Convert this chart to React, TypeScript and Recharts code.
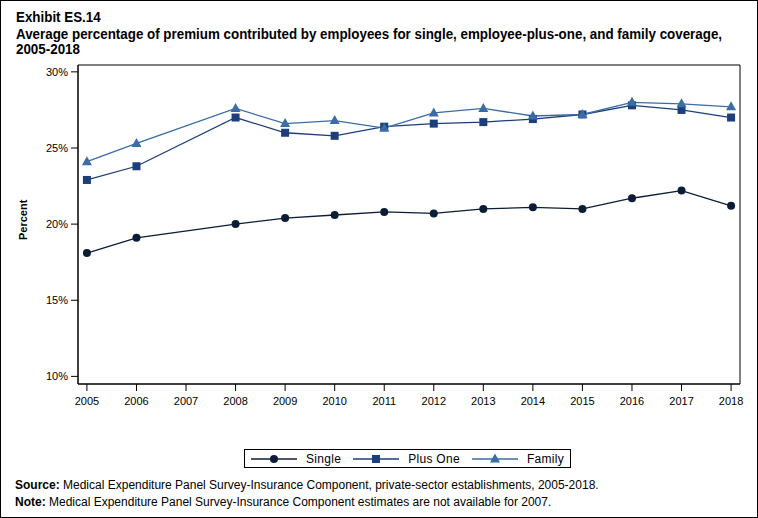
import React from "react";
import {
  LineChart,
  Line,
  XAxis,
  YAxis,
  ReferenceArea,
} from "recharts";

const years = [2005, 2006, 2008, 2009, 2010, 2011, 2012, 2013, 2014, 2015, 2016, 2017, 2018];
const yearTicks = [2005, 2006, 2007, 2008, 2009, 2010, 2011, 2012, 2013, 2014, 2015, 2016, 2017, 2018];
const single = [18.1, 19.1, 20.0, 20.4, 20.6, 20.8, 20.7, 21.0, 21.1, 21.0, 21.7, 22.2, 21.2];
const plusOne = [22.9, 23.8, 27.0, 26.0, 25.8, 26.4, 26.6, 26.7, 26.9, 27.2, 27.8, 27.5, 27.0];
const family = [24.1, 25.3, 27.6, 26.6, 26.8, 26.3, 27.3, 27.6, 27.1, 27.2, 28.0, 27.9, 27.7];
const percentTicks = [10, 15, 20, 25, 30];

const data = years.map((year, i) => ({
  year,
  single: single[i],
  plusOne: plusOne[i],
  family: family[i],
}));

const X_DOMAIN: [number, number] = [2004.82, 2018.18];
const Y_DOMAIN: [number, number] = [9.5, 30.45];

const FONT = "'Liberation Sans', Arial, sans-serif";
const C_SINGLE = "#0b1d35";
const C_PLUS = "#1c3e7a";
const C_FAMILY = "#3a6ca6";

const series = [
  { key: "single", name: "Single", color: C_SINGLE, shape: "circle" },
  { key: "plusOne", name: "Plus One", color: C_PLUS, shape: "square" },
  { key: "family", name: "Family", color: C_FAMILY, shape: "triangle" },
];

function Marker({ cx, cy, shape, color }: any) {
  if (cx == null || cy == null) return null;
  if (shape === "circle") return <circle cx={cx} cy={cy} r={4} fill={color} />;
  if (shape === "square")
    return <rect x={cx - 4} y={cy - 4} width={8} height={8} fill={color} />;
  return (
    <polygon
      points={`${cx},${cy - 5.5} ${cx - 5},${cy + 3.5} ${cx + 5},${cy + 3.5}`}
      fill={color}
    />
  );
}

function LegendBox() {
  return (
    <div
      style={{
        position: "absolute",
        left: 243,
        top: 448,
        display: "flex",
        alignItems: "center",
        border: "1px solid #000",
        height: 17,
        padding: "0 6px",
        fontFamily: FONT,
        fontSize: 12,
        background: "#fff",
      }}
    >
      {series.map((s, i) => (
        <div
          key={s.key}
          style={{ display: "flex", alignItems: "center", marginLeft: i === 0 ? 0 : 12 }}
        >
          <svg width={46} height={12}>
            <line x1={0} y1={6} x2={46} y2={6} stroke={s.color} strokeWidth={1.3} />
            <Marker cx={23} cy={6} shape={s.shape} color={s.color} />
          </svg>
          <span style={{ marginLeft: 9, letterSpacing: 0.3 }}>{s.name}</span>
        </div>
      ))}
    </div>
  );
}

export default function App() {
  return (
    <div
      style={{
        position: "absolute",
        left: 0,
        top: 0,
        width: 758,
        height: 518,
        boxSizing: "border-box",
        border: "1px solid #000",
        background: "#fff",
        fontFamily: FONT,
        overflow: "hidden",
      }}
    >
      <div
        style={{
          position: "absolute",
          left: 15,
          top: 9,
          fontSize: 14,
          fontWeight: "bold",
          lineHeight: "15px",
          transform: "scaleX(0.955)",
          transformOrigin: "left top",
          whiteSpace: "nowrap",
        }}
      >
        <div>Exhibit ES.14</div>
        <div style={{ marginTop: 2 }}>
          Average percentage of premium contributed by employees for single, employee-plus-one, and family coverage,
        </div>
        <div>2005-2018</div>
      </div>
      <div
        style={{
          position: "absolute",
          left: 7,
          top: 224,
          transform: "translate(0, -50%) rotate(-90deg)",
          transformOrigin: "center",
          fontSize: 11,
          fontWeight: "bold",
          width: 30,
          textAlign: "center",
        }}
      >
        Percent
      </div>
      <div style={{ position: "absolute", left: 0, top: 0 }}>
        <LineChart
          width={756}
          height={516}
          data={data}
          margin={{ top: 64, right: 17, bottom: 103, left: 7 }}
        >
          <XAxis
            dataKey="year"
            type="number"
            domain={X_DOMAIN}
            ticks={yearTicks}
            interval={0}
            height={30}
            tickSize={7}
            tick={{ fontSize: 11, fill: "#000", fontFamily: FONT }}
            tickMargin={6}
            stroke="#000"
            allowDataOverflow
          />
          <YAxis
            type="number"
            domain={Y_DOMAIN}
            ticks={percentTicks}
            tickFormatter={(v) => `${v}%`}
            width={70}
            tickSize={7}
            tickMargin={3}
            tick={{ fontSize: 11, fill: "#000", fontFamily: FONT }}
            stroke="#000"
            allowDataOverflow
          />
          <ReferenceArea
            x1={X_DOMAIN[0]}
            x2={X_DOMAIN[1]}
            y1={Y_DOMAIN[0]}
            y2={Y_DOMAIN[1]}
            fill="none"
            stroke="#000"
            strokeWidth={1}
            ifOverflow="visible"
          />
          {series.map((s) => (
            <Line
              key={s.key}
              dataKey={s.key}
              name={s.name}
              stroke={s.color}
              strokeWidth={1.3}
              isAnimationActive={false}
              dot={(p: any) => (
                <Marker key={`${s.key}-${p.index}`} cx={p.cx} cy={p.cy} shape={s.shape} color={s.color} />
              )}
              activeDot={false}
            />
          ))}
        </LineChart>
      </div>
      <LegendBox />
      <div style={{ position: "absolute", left: 14, top: 476, fontSize: 12, lineHeight: "17px" }}>
        <div>
          <b>Source:</b> Medical Expenditure Panel Survey-Insurance Component, private-sector establishments, 2005-2018.
        </div>
        <div>
          <b>Note:</b> Medical Expenditure Panel Survey-Insurance Component estimates are not available for 2007.
        </div>
      </div>
    </div>
  );
}
